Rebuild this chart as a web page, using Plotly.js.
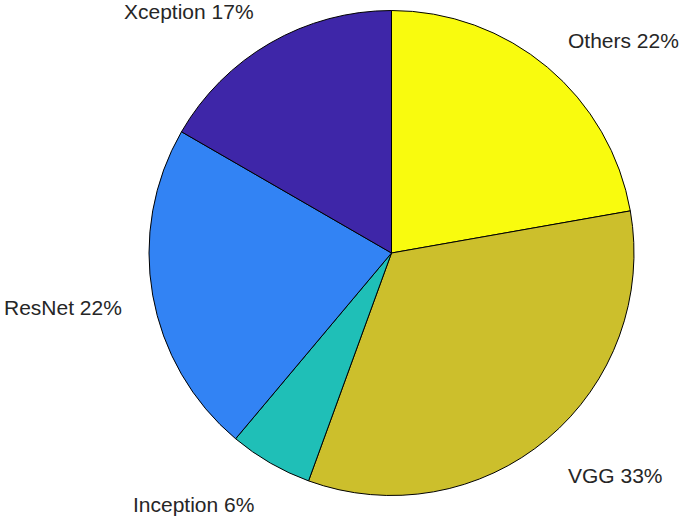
<!DOCTYPE html>
<html>
<head>
<meta charset="utf-8">
<script src="https://cdn.plot.ly/plotly-3.0.1.min.js"></script>
<style>html,body{margin:0;padding:0;background:#fff;}#chart{width:685px;height:520px;}</style>
</head>
<body>
<div id="chart"></div>
<script>
// Data (clockwise from 12 o'clock)
const categories = ["Others", "VGG", "Inception", "ResNet", "Xception"];
const counts = [4, 6, 1, 4, 3];
const sliceColors = ["#F9FB0E", "#CCBF2C", "#1FBFB7", "#3283F4", "#3E26A8"];

const total = counts.reduce((a, b) => a + b, 0);
const labelTexts = categories.map((c, i) => c + " " + Math.round(counts[i] / total * 100) + "%");

// Label annotations positioned from each slice's mid-angle (domain coords: center 0.5, radius 0.5)
const kx = 1.12, ky = 1.17;
let cum = 0;
const annotations = counts.map((v, i) => {
  const mid = (cum + v / 2) / total * 2 * Math.PI;
  cum += v;
  const s = Math.sin(mid), c = Math.cos(mid);
  return {
    xref: "paper", yref: "paper",
    x: 0.5 + 0.5 * kx * s,
    y: 0.5 + 0.5 * ky * c,
    xanchor: s >= 0 ? "left" : "right",
    yanchor: "middle",
    yshift: -5,
    text: labelTexts[i],
    showarrow: false,
    font: {family: "Liberation Sans, Arial, sans-serif", size: 21, color: "#262626"}
  };
});

const trace = {
  type: "pie",
  labels: categories,
  values: counts,
  sort: false,
  direction: "clockwise",
  rotation: 0,
  textinfo: "none",
  hoverinfo: "label+percent",
  marker: {colors: sliceColors, line: {color: "#000000", width: 1}},
  domain: {x: [0, 1], y: [0, 1]}
};

const layout = {
  width: 685,
  height: 520,
  margin: {l: 149, r: 51, t: 10, b: 24},
  showlegend: false,
  paper_bgcolor: "#ffffff",
  plot_bgcolor: "#ffffff",
  annotations: annotations
};

Plotly.newPlot("chart", [trace], layout, {displayModeBar: false, staticPlot: true});
</script>
</body>
</html>
